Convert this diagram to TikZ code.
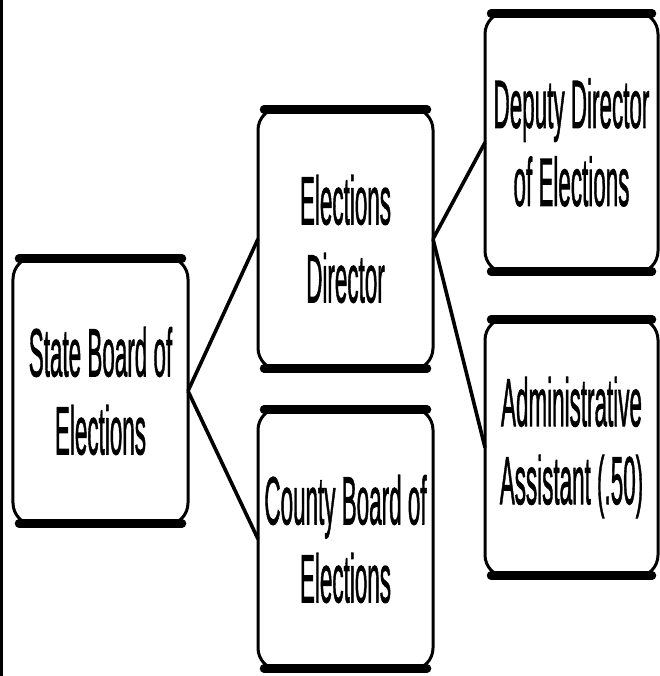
\documentclass[tikz,border=0pt]{standalone}
\usepackage{fontspec}
\setmainfont{Liberation Sans}
\newfontfamily\heavyfont{Liberation Sans}[FakeBold=1.6]
\begin{document}
\begin{tikzpicture}[x=1pt,y=-1pt,
  box/.style={draw, line width=3pt, rounded corners=22pt, xscale=0.33, transform shape,
    minimum width=#1/0.33, inner sep=0pt, outer sep=0pt, align=center,
    font=\heavyfont\fontsize{68}{78}\selectfont},
  band/.style={line width=8.5pt, line cap=round, shorten <=6pt, shorten >=6pt},
  conn/.style={line width=3.6pt}]
\useasboundingbox (0,0) rectangle (659,676);
\draw[line width=2.6pt] (1.3,0) -- (1.3,676);
\node[box=175, minimum height=268pt] (state) at (100.5,391) {State Board of\\Elections};
\node[box=175, minimum height=262pt] (ed) at (345.5,239) {Elections\\Director};
\node[box=175, minimum height=262pt] (cb) at (345.5,539) {County Board of\\Elections};
\node[box=173, minimum height=261pt] (dep) at (571.5,142.5) {Deputy Director\\of Elections};
\node[box=173, minimum height=259pt] (adm) at (571.5,447.5) {Administrative\\Assistant (.50)};
\foreach \n in {state,ed,cb,dep,adm}{
  \draw[band] ([yshift=-1.5pt]\n.north west) -- ([yshift=-1.5pt]\n.north east);
  \draw[band] ([yshift=1.5pt]\n.south west) -- ([yshift=1.5pt]\n.south east);
}
\draw[conn] (state.east) -- (ed.west);
\draw[conn] (state.east) -- (cb.west);
\draw[conn] (ed.east) -- (dep.west);
\draw[conn] (ed.east) -- (adm.west);
\end{tikzpicture}
\end{document}
